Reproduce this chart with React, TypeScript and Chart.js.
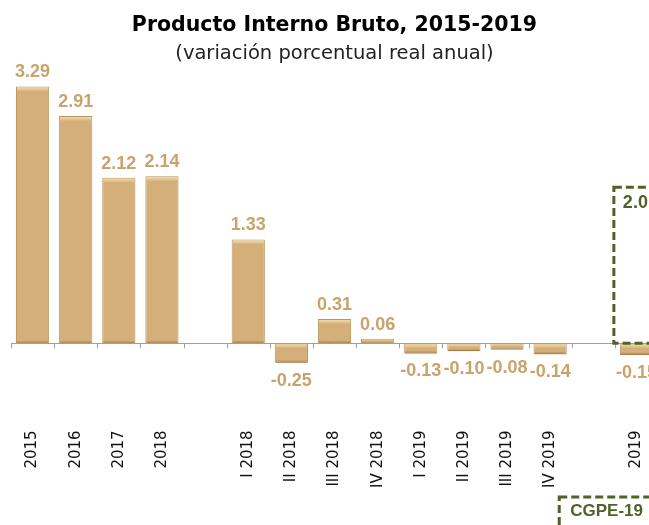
import React, { useEffect, useRef } from "react";
import { Chart, registerables } from "chart.js";

Chart.register(...registerables);

const categories: string[] = [
  "2015", "2016", "2017", "2018", "",
  "I 2018", "II 2018", "III 2018", "IV 2018",
  "I 2019", "II 2019", "III 2019", "IV 2019", "",
  "2019",
];
const pibValues: (number | null)[] = [
  3.29, 2.91, 2.12, 2.14, null,
  1.33, -0.25, 0.31, 0.06,
  -0.13, -0.1, -0.08, -0.14, null,
  -0.15,
];
const cgpeIndex = 14;
const cgpeValue = 2.0;
const cgpeValueLabel = "2.0";
const cgpeName = "CGPE-19";
const titleText = "Producto Interno Bruto, 2015-2019";
const subtitleText = "(variación porcentual real anual)";

const GREEN = "#4F6228";
const TAN_TEXT = "#C9A36C";

const overlayPlugin = {
  id: "overlay",
  afterDatasetsDraw(chart: any) {
    const { ctx, chartArea } = chart;
    const xs = chart.scales.x;
    const ys = chart.scales.y;
    const step = xs.getPixelForValue(1) - xs.getPixelForValue(0);
    const y0 = ys.getPixelForValue(0);
    const meta = chart.getDatasetMeta(0);
    ctx.save();

    // bevel effect on bars
    meta.data.forEach((el: any, i: number) => {
      const v = pibValues[i];
      if (v === null || v === undefined) return;
      const l = el.x - el.width / 2;
      const top = Math.min(el.y, el.base);
      const bot = Math.max(el.y, el.base);
      const h = bot - top;
      const sh = Math.min(5, h / 2);
      const g = ctx.createLinearGradient(0, top, 0, top + sh);
      g.addColorStop(0, "rgba(250,232,185,1)");
      g.addColorStop(1, "rgba(250,232,185,0)");
      ctx.fillStyle = g;
      ctx.fillRect(l + 1, top + 1, el.width - 2, sh);
      const bh = Math.min(3, h / 3);
      const g2 = ctx.createLinearGradient(0, bot - bh, 0, bot);
      g2.addColorStop(0, "rgba(160,120,70,0)");
      g2.addColorStop(1, "rgba(160,120,70,0.8)");
      ctx.fillStyle = g2;
      ctx.fillRect(l + 1, bot - bh, el.width - 2, bh);
    });

    // zero axis line with tick marks
    ctx.strokeStyle = "#A0A0A0";
    ctx.lineWidth = 1;
    ctx.beginPath();
    ctx.moveTo(chartArea.left, Math.round(y0) + 0.5);
    ctx.lineTo(chartArea.right, Math.round(y0) + 0.5);
    for (let i = 0; i <= categories.length; i++) {
      const px = Math.round(xs.getPixelForValue(0) - step / 2 + i * step) + 0.5;
      ctx.moveTo(px, y0);
      ctx.lineTo(px, y0 + 5);
    }
    ctx.stroke();

    // value labels
    ctx.fillStyle = TAN_TEXT;
    ctx.font = "bold 18px 'Liberation Sans'";
    ctx.textAlign = "center";
    ctx.textBaseline = "alphabetic";
    meta.data.forEach((el: any, i: number) => {
      const v = pibValues[i];
      if (v === null || v === undefined) return;
      const txt = v.toFixed(2);
      if (v >= 0) {
        ctx.fillText(txt, el.x, el.y - 9);
      } else {
        ctx.fillText(txt, el.x, el.y + 23);
      }
    });

    // CGPE dashed box
    const left = xs.getPixelForValue(cgpeIndex) - step / 2 - 1;
    const top = ys.getPixelForValue(cgpeValue);
    ctx.strokeStyle = GREEN;
    ctx.lineWidth = 3;
    ctx.setLineDash([8, 4]);
    ctx.strokeRect(left, top, step * 2, y0 - top);
    ctx.setLineDash([]);
    ctx.fillStyle = GREEN;
    ctx.font = "bold 18px 'Liberation Sans'";
    ctx.textAlign = "left";
    ctx.textBaseline = "alphabetic";
    ctx.fillText(cgpeValueLabel, left + 9, top + 21);

    // CGPE legend box at bottom
    const bx = xs.getPixelForValue(cgpeIndex) - step * 1.79;
    const by = xs.bottom + 1;
    ctx.setLineDash([8, 4]);
    ctx.strokeRect(bx, by, 160, 40);
    ctx.setLineDash([]);
    ctx.font = "bold 17px 'Liberation Sans'";
    ctx.fillText(cgpeName, bx + 11, by + 19);
    ctx.restore();
  },
};

export default function App() {
  const ref = useRef<HTMLCanvasElement | null>(null);
  useEffect(() => {
    if (!ref.current) return;
    const chart = new Chart(ref.current, {
      type: "bar",
      data: {
        labels: categories,
        datasets: [
          {
            data: pibValues,
            backgroundColor: "#D4AF7A",
            borderColor: "#B8945E",
            borderWidth: 1,
            barPercentage: 0.77,
            categoryPercentage: 1,
          },
        ],
      },
      options: {
        animation: false,
        responsive: false,
        maintainAspectRatio: false,
        layout: { padding: { left: 11, right: 8, top: 0, bottom: 49 } },
        plugins: {
          legend: { display: false },
          tooltip: { enabled: false },
          title: {
            display: true,
            text: titleText,
            color: "#000",
            font: { family: "'DejaVu Sans'", size: 20.5, weight: "bold" },
            padding: { top: 13, bottom: 5 },
          },
          subtitle: {
            display: true,
            text: subtitleText,
            color: "#222",
            font: { family: "'DejaVu Sans'", size: 19.5, weight: "normal" },
            padding: { top: 0, bottom: 4 },
          },
        },
        scales: {
          x: {
            grid: { display: false },
            border: { display: false },
            ticks: {
              autoSkip: false,
              minRotation: 90,
              maxRotation: 90,
              padding: 8,
              color: "#111",
              font: { family: "'DejaVu Sans'", size: 15 },
            },
          },
          y: {
            display: false,
            min: -0.91,
            max: 3.5,
          },
        },
      },
      plugins: [overlayPlugin],
    });
    return () => chart.destroy();
  }, []);
  return (
    <div
      style={{
        position: "fixed",
        left: 0,
        top: 0,
        width: 649,
        height: 525,
        overflow: "hidden",
        background: "#fff",
      }}
    >
      <canvas ref={ref} width={666} height={545} style={{ display: "block" }} />
    </div>
  );
}
